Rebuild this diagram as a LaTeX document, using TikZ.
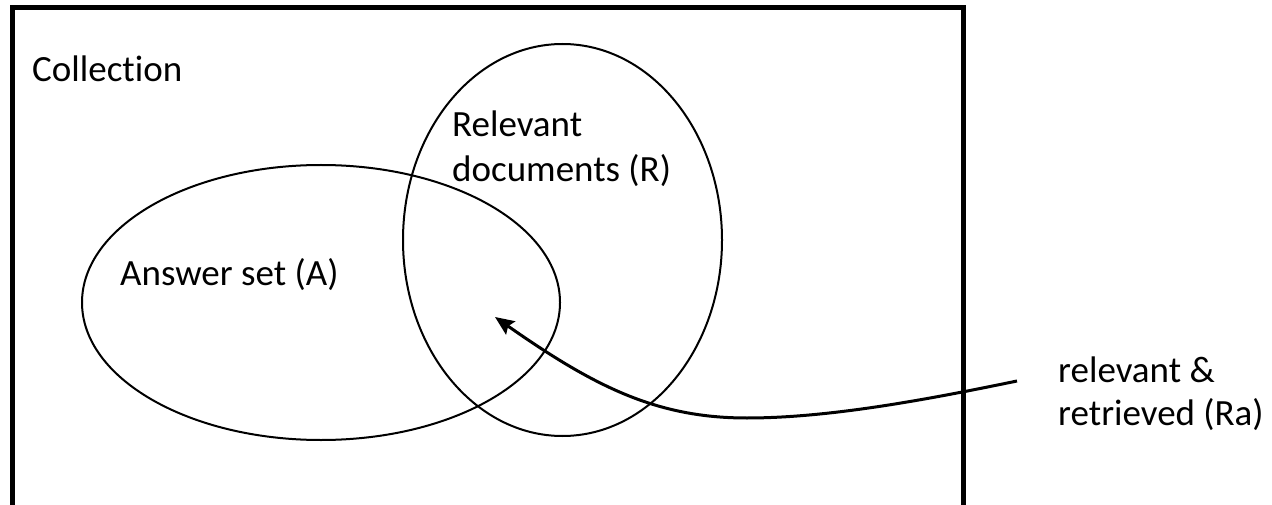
\documentclass[tikz,border=0pt]{standalone}
\usepackage{fontspec}
\setmainfont[Ligatures=NoCommon]{Carlito}
\usetikzlibrary{arrows.meta}
\begin{document}
\begin{tikzpicture}[x=1pt,y=-1pt,
  lbl/.style={anchor=base west, inner sep=0pt, font=\fontsize{37}{44}\selectfont},
  setline/.style={line width=2pt},
  frame/.style={line width=5pt, line join=miter},
  pointer/.style={line width=3pt, -{Stealth[length=19pt,width=16pt,inset=3pt]}}]
\useasboundingbox (0,0) rectangle (1272,505);
\clip (0,0) rectangle (1272,505);
% collection frame (bottom edge lies below the picture)
\draw[frame] (12.5,520) -- (12.5,7.5) -- (963.5,7.5) -- (963.5,520);
% sets
\draw[setline] (321,302.5) ellipse [x radius=239, y radius=137.5];
\draw[setline] (562.5,240) ellipse [x radius=159.5, y radius=196];
% labels
\node[lbl] (coll) at (32,82) {Collection};
\node[lbl] (ans) at (120,285) {Answer set (A)};
\node[lbl] (rel1) at (452,137) {Relevant};
\node[lbl] (rel2) at (452,182) {documents (R)};
\node[lbl] (ra1) at (1058,382) {relevant \&};
\node[lbl] (ra2) at (1058,425) {retrieved (Ra)};
% pointer
\coordinate (from) at (1017,381);
\coordinate (low) at (747,418);
\coordinate (tip) at (495,317);
\draw[pointer] (from) .. controls (930,399) and (830,418) .. (low)
  .. controls (657,418) and (595,387) .. (tip);
\end{tikzpicture}
\end{document}
